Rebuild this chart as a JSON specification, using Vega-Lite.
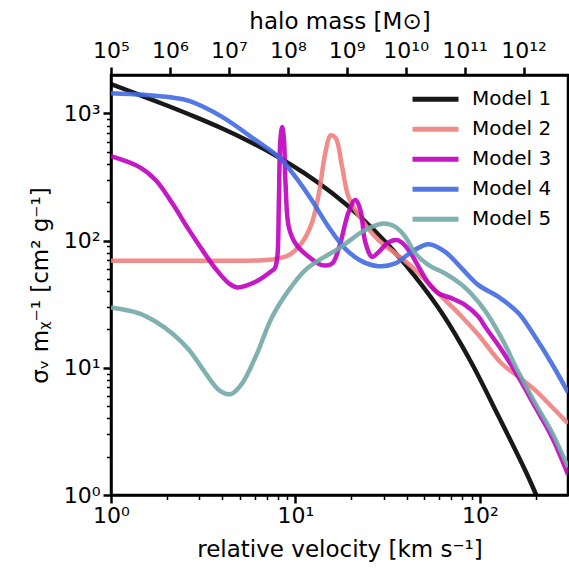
{
  "$schema": "https://vega.github.io/schema/vega-lite/v6.json",
  "width": 457,
  "height": 420,
  "autosize": {"type": "none"},
  "padding": {"left": 111, "top": 75, "right": 1, "bottom": 76},
  "background": "white",
  "config": {
    "font": "DejaVu Sans",
    "view": {"stroke": "black", "strokeWidth": 2.5},
    "axis": {
      "domainColor": "black", "domainWidth": 2.5, "tickColor": "black",
      "labelColor": "black", "titleColor": "black",
      "labelFont": "DejaVu Sans", "titleFont": "DejaVu Sans",
      "labelFontSize": 22, "titleFontSize": 23, "titleFontWeight": "normal",
      "grid": false, "labelFlush": false, "labelOverlap": false
    }
  },
  "layer": [
    {
      "data": {"values": [
        {"model": "Model 1", "v": 1, "s": 1698},
        {"model": "Model 1", "v": 1.413, "s": 1404},
        {"model": "Model 1", "v": 1.995, "s": 1157},
        {"model": "Model 1", "v": 2.818, "s": 946},
        {"model": "Model 1", "v": 3.981, "s": 763},
        {"model": "Model 1", "v": 5.623, "s": 601},
        {"model": "Model 1", "v": 7.943, "s": 459},
        {"model": "Model 1", "v": 11.22, "s": 337},
        {"model": "Model 1", "v": 15.85, "s": 235},
        {"model": "Model 1", "v": 22.39, "s": 154},
        {"model": "Model 1", "v": 31.62, "s": 93.3},
        {"model": "Model 1", "v": 44.67, "s": 51.8},
        {"model": "Model 1", "v": 63.1, "s": 26.1},
        {"model": "Model 1", "v": 89.1, "s": 11.2},
        {"model": "Model 1", "v": 125.9, "s": 4.17},
        {"model": "Model 1", "v": 177.8, "s": 1.51},
        {"model": "Model 1", "v": 208.9, "s": 0.89},

        {"model": "Model 2", "v": 1, "s": 69.3},
        {"model": "Model 2", "v": 2, "s": 69.3},
        {"model": "Model 2", "v": 4.36, "s": 69.3},
        {"model": "Model 2", "v": 6, "s": 69.6},
        {"model": "Model 2", "v": 7.45, "s": 71},
        {"model": "Model 2", "v": 9.2, "s": 76.8},
        {"model": "Model 2", "v": 10.8, "s": 95.4},
        {"model": "Model 2", "v": 12.26, "s": 137},
        {"model": "Model 2", "v": 13.4, "s": 236},
        {"model": "Model 2", "v": 14.5, "s": 486},
        {"model": "Model 2", "v": 15.5, "s": 670},
        {"model": "Model 2", "v": 16.5, "s": 640},
        {"model": "Model 2", "v": 17.9, "s": 379},
        {"model": "Model 2", "v": 19.4, "s": 220},
        {"model": "Model 2", "v": 22.9, "s": 145},
        {"model": "Model 2", "v": 28.2, "s": 100.7},
        {"model": "Model 2", "v": 34.8, "s": 79.2},
        {"model": "Model 2", "v": 42.8, "s": 62.1},
        {"model": "Model 2", "v": 52.7, "s": 46},
        {"model": "Model 2", "v": 64.8, "s": 34},
        {"model": "Model 2", "v": 79.7, "s": 25.2},
        {"model": "Model 2", "v": 98.2, "s": 18.1},
        {"model": "Model 2", "v": 131, "s": 10.8},
        {"model": "Model 2", "v": 161.5, "s": 8.5},
        {"model": "Model 2", "v": 199, "s": 6.68},
        {"model": "Model 2", "v": 245, "s": 4.94},
        {"model": "Model 2", "v": 300, "s": 3.65},

        {"model": "Model 3", "v": 1, "s": 460},
        {"model": "Model 3", "v": 1.42, "s": 379},
        {"model": "Model 3", "v": 1.75, "s": 298},
        {"model": "Model 3", "v": 2.15, "s": 196},
        {"model": "Model 3", "v": 2.65, "s": 120.7},
        {"model": "Model 3", "v": 3.13, "s": 84.1},
        {"model": "Model 3", "v": 3.69, "s": 60},
        {"model": "Model 3", "v": 4.36, "s": 46},
        {"model": "Model 3", "v": 4.83, "s": 42.8},
        {"model": "Model 3", "v": 6.08, "s": 47.4},
        {"model": "Model 3", "v": 7.33, "s": 56.8},
        {"model": "Model 3", "v": 7.73, "s": 60.7},
        {"model": "Model 3", "v": 7.96, "s": 72.8},
        {"model": "Model 3", "v": 8.13, "s": 208},
        {"model": "Model 3", "v": 8.28, "s": 615},
        {"model": "Model 3", "v": 8.47, "s": 780},
        {"model": "Model 3", "v": 8.65, "s": 637},
        {"model": "Model 3", "v": 8.83, "s": 282},
        {"model": "Model 3", "v": 9.2, "s": 128},
        {"model": "Model 3", "v": 10, "s": 94.9},
        {"model": "Model 3", "v": 11.8, "s": 74.5},
        {"model": "Model 3", "v": 13.9, "s": 64.1},
        {"model": "Model 3", "v": 15.8, "s": 66.1},
        {"model": "Model 3", "v": 17.2, "s": 87.2},
        {"model": "Model 3", "v": 19.4, "s": 167},
        {"model": "Model 3", "v": 21.1, "s": 208},
        {"model": "Model 3", "v": 22.5, "s": 173},
        {"model": "Model 3", "v": 23.9, "s": 97.1},
        {"model": "Model 3", "v": 26, "s": 74.5},
        {"model": "Model 3", "v": 28.2, "s": 81.1},
        {"model": "Model 3", "v": 32, "s": 97.1},
        {"model": "Model 3", "v": 35.8, "s": 100.7},
        {"model": "Model 3", "v": 40.5, "s": 86.7},
        {"model": "Model 3", "v": 46.5, "s": 62.1},
        {"model": "Model 3", "v": 52.7, "s": 46},
        {"model": "Model 3", "v": 59.6, "s": 38.4},
        {"model": "Model 3", "v": 70.4, "s": 35.1},
        {"model": "Model 3", "v": 83.2, "s": 31.1},
        {"model": "Model 3", "v": 98.2, "s": 25.2},
        {"model": "Model 3", "v": 106.7, "s": 21},
        {"model": "Model 3", "v": 131, "s": 13.8},
        {"model": "Model 3", "v": 161.5, "s": 8.5},
        {"model": "Model 3", "v": 199, "s": 4.94},
        {"model": "Model 3", "v": 245, "s": 2.87},
        {"model": "Model 3", "v": 300, "s": 1.45},

        {"model": "Model 4", "v": 1, "s": 1439},
        {"model": "Model 4", "v": 1.5, "s": 1400},
        {"model": "Model 4", "v": 2.14, "s": 1330},
        {"model": "Model 4", "v": 2.65, "s": 1250},
        {"model": "Model 4", "v": 4.0, "s": 937},
        {"model": "Model 4", "v": 6.08, "s": 615},
        {"model": "Model 4", "v": 8.13, "s": 452},
        {"model": "Model 4", "v": 10, "s": 316},
        {"model": "Model 4", "v": 12.26, "s": 207},
        {"model": "Model 4", "v": 15.1, "s": 128},
        {"model": "Model 4", "v": 18.7, "s": 85.6},
        {"model": "Model 4", "v": 22.8, "s": 68.9},
        {"model": "Model 4", "v": 28.2, "s": 62.9},
        {"model": "Model 4", "v": 34.8, "s": 66.1},
        {"model": "Model 4", "v": 42.6, "s": 81.5},
        {"model": "Model 4", "v": 52.7, "s": 93.7},
        {"model": "Model 4", "v": 64.8, "s": 81.5},
        {"model": "Model 4", "v": 79.4, "s": 60.7},
        {"model": "Model 4", "v": 98.2, "s": 44.6},
        {"model": "Model 4", "v": 126, "s": 36.1},
        {"model": "Model 4", "v": 161.5, "s": 26.9},
        {"model": "Model 4", "v": 199, "s": 17.5},
        {"model": "Model 4", "v": 244, "s": 10.9},
        {"model": "Model 4", "v": 300, "s": 6.4},

        {"model": "Model 5", "v": 1, "s": 29.8},
        {"model": "Model 5", "v": 1.42, "s": 26.8},
        {"model": "Model 5", "v": 1.75, "s": 23},
        {"model": "Model 5", "v": 2.15, "s": 18.6},
        {"model": "Model 5", "v": 2.65, "s": 13.8},
        {"model": "Model 5", "v": 3.26, "s": 9.04},
        {"model": "Model 5", "v": 3.85, "s": 6.68},
        {"model": "Model 5", "v": 4.45, "s": 6.2},
        {"model": "Model 5", "v": 5.14, "s": 7.54},
        {"model": "Model 5", "v": 6.08, "s": 12.2},
        {"model": "Model 5", "v": 7.48, "s": 25.2},
        {"model": "Model 5", "v": 9.2, "s": 40.8},
        {"model": "Model 5", "v": 11.3, "s": 58.6},
        {"model": "Model 5", "v": 13.9, "s": 72.3},
        {"model": "Model 5", "v": 17.2, "s": 86.7},
        {"model": "Model 5", "v": 22.9, "s": 117},
        {"model": "Model 5", "v": 26, "s": 128},
        {"model": "Model 5", "v": 30.1, "s": 136},
        {"model": "Model 5", "v": 34.8, "s": 128},
        {"model": "Model 5", "v": 39.4, "s": 107},
        {"model": "Model 5", "v": 44.6, "s": 79.2},
        {"model": "Model 5", "v": 52.7, "s": 64.1},
        {"model": "Model 5", "v": 64.8, "s": 55.1},
        {"model": "Model 5", "v": 79.7, "s": 45},
        {"model": "Model 5", "v": 90, "s": 38},
        {"model": "Model 5", "v": 106.7, "s": 28},
        {"model": "Model 5", "v": 131, "s": 17.1},
        {"model": "Model 5", "v": 161.5, "s": 9.25},
        {"model": "Model 5", "v": 199, "s": 5.28},
        {"model": "Model 5", "v": 245, "s": 3.13},
        {"model": "Model 5", "v": 300, "s": 1.65}
      ]},
      "mark": {"type": "line", "strokeWidth": 4.5, "opacity": 0.9, "interpolate": "catmull-rom", "clip": true},
      "encoding": {
        "x": {
          "field": "v", "type": "quantitative",
          "scale": {"type": "log", "domain": [1, 300], "nice": false},
          "axis": {
            "orient": "bottom",
            "title": "relative velocity [km s⁻¹]",
            "values": [1, 2, 3, 4, 5, 6, 7, 8, 9, 10, 20, 30, 40, 50, 60, 70, 80, 90, 100, 200],
            "labelExpr": "datum.value == 1 ? '10⁰' : datum.value == 10 ? '10¹' : datum.value == 100 ? '10²' : ''",
            "tickSize": {"condition": {"test": "datum.value == 1 || datum.value == 10 || datum.value == 100", "value": 8}, "value": 4.5},
            "tickWidth": {"condition": {"test": "datum.value == 1 || datum.value == 10 || datum.value == 100", "value": 2.5}, "value": 1.5},
            "labelPadding": 2,
            "titlePadding": 12
          }
        },
        "y": {
          "field": "s", "type": "quantitative",
          "scale": {"type": "log", "domain": [1, 2000], "nice": false},
          "axis": {
            "title": "σᵥ mᵪ⁻¹ [cm² g⁻¹]",
            "values": [1, 2, 3, 4, 5, 6, 7, 8, 9, 10, 20, 30, 40, 50, 60, 70, 80, 90, 100, 200, 300, 400, 500, 600, 700, 800, 900, 1000],
            "labelExpr": "datum.value == 1 ? '10⁰' : datum.value == 10 ? '10¹' : datum.value == 100 ? '10²' : datum.value == 1000 ? '10³' : ''",
            "tickSize": {"condition": {"test": "datum.value == 1 || datum.value == 10 || datum.value == 100 || datum.value == 1000", "value": 8}, "value": 4.5},
            "tickWidth": {"condition": {"test": "datum.value == 1 || datum.value == 10 || datum.value == 100 || datum.value == 1000", "value": 2.5}, "value": 1.5},
            "labelPadding": 3,
            "titlePadding": 11
          }
        },
        "color": {
          "field": "model", "type": "nominal",
          "scale": {
            "domain": ["Model 1", "Model 2", "Model 3", "Model 4", "Model 5"],
            "range": ["#000000", "#F08080", "#BF00BF", "#4169E1", "#72A9A7"]
          },
          "legend": {
            "title": null,
            "orient": "none",
            "legendX": 299,
            "legendY": 9.5,
            "symbolType": "stroke",
            "symbolSize": 2116,
            "symbolStrokeWidth": 5,
            "labelFontSize": 20,
            "labelFont": "DejaVu Sans",
            "labelColor": "black",
            "labelOffset": 11,
            "clipHeight": 29.5,
            "rowPadding": 0,
            "padding": 0
          }
        }
      }
    },
    {
      "data": {"values": [{"m": 100000}, {"m": 5680000000000}]},
      "mark": {"type": "point", "opacity": 0},
      "encoding": {
        "x": {
          "field": "m", "type": "quantitative",
          "scale": {"type": "log", "domain": [100000, 5680000000000], "nice": false},
          "axis": {
            "orient": "top",
            "title": "halo mass [M⊙]",
            "values": [100000, 1000000, 10000000, 100000000, 1000000000, 10000000000, 100000000000, 1000000000000],
            "labelExpr": "datum.value < 5e5 ? '10⁵' : datum.value < 5e6 ? '10⁶' : datum.value < 5e7 ? '10⁷' : datum.value < 5e8 ? '10⁸' : datum.value < 5e9 ? '10⁹' : datum.value < 5e10 ? '10¹⁰' : datum.value < 5e11 ? '10¹¹' : '10¹²'",
            "tickSize": 8,
            "tickWidth": 2.5,
            "labelPadding": 5,
            "titlePadding": 6
          }
        }
      }
    }
  ],
  "resolve": {"scale": {"x": "independent"}, "axis": {"x": "independent"}}
}
